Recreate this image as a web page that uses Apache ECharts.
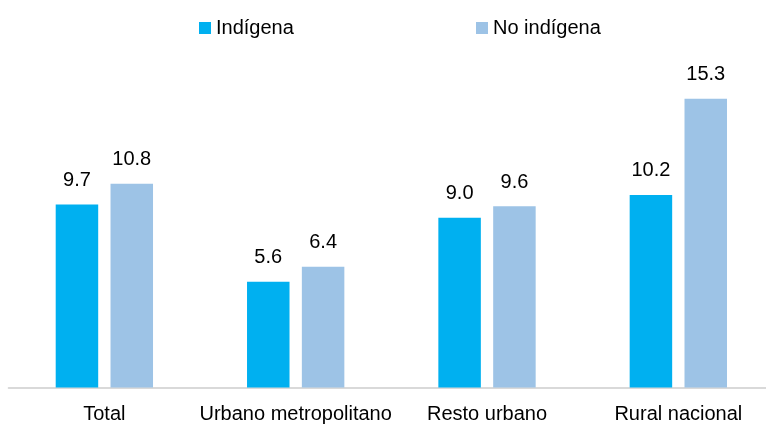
<!DOCTYPE html>
<html>
<head>
<meta charset="utf-8">
<script src="https://cdn.jsdelivr.net/npm/echarts@6/dist/echarts.min.js"></script>
<style>
  html, body { margin: 0; padding: 0; background: #fff; overflow: hidden; }
  /* the plot runs a little past the right edge in the reference, so the
     canvas is wider than the window and simply gets cut off */
  #chart { width: 774px; height: 428px; }
</style>
</head>
<body>
<div id="chart"></div>
<script>
// values
const categories = ['Total', 'Urbano metropolitano', 'Resto urbano', 'Rural nacional']
const seriesNames = ['Indígena', 'No indígena']
const indigena = [9.7, 5.6, 9.0, 10.2]
const noIndigena = [10.8, 6.4, 9.6, 15.3]

const colors = ['#00B0F0', '#9DC3E6']
const font = 'Liberation Sans, Arial, sans-serif'

const chart = echarts.init(document.getElementById('chart'), null, { renderer: 'canvas' })

const legendText = { color: '#000', fontSize: 20, fontFamily: font }
const barLabel = {
  show: true, position: 'top', distance: 14,
  color: '#000', fontSize: 20, fontFamily: font,
  formatter: (p) => p.value.toFixed(1),
}

chart.setOption({
  backgroundColor: '#fff',
  animation: false,
  // two legends so each item sits where it does in the picture
  legend: [
    { data: [seriesNames[0]], left: 194, top: 13, icon: 'rect', itemWidth: 12, itemHeight: 12, itemGap: 6, textStyle: legendText },
    { data: [seriesNames[1]], left: 471, top: 13, icon: 'rect', itemWidth: 12, itemHeight: 12, itemGap: 6, textStyle: legendText },
  ],
  grid: { left: 8.7, right: 0, top: 10, bottom: 40.5, containLabel: false },
  xAxis: {
    type: 'category',
    data: categories,
    axisLine: { lineStyle: { color: '#D9D9D9', width: 2 } },
    axisTick: { show: false },
    axisLabel: { interval: 0, color: '#000', fontSize: 20, fontFamily: font, margin: 17 },
  },
  yAxis: {
    type: 'value', min: 0, max: 20, interval: 5,
    show: false,
    splitLine: { show: false },
  },
  series: [
    {
      name: seriesNames[0], type: 'bar', data: indigena,
      barWidth: 42.5, barGap: '29%',
      itemStyle: { color: colors[0] },
      label: barLabel,
    },
    {
      name: seriesNames[1], type: 'bar', data: noIndigena,
      barWidth: 42.5, barGap: '29%',
      itemStyle: { color: colors[1] },
      label: barLabel,
    },
  ],
})
</script>
</body>
</html>
